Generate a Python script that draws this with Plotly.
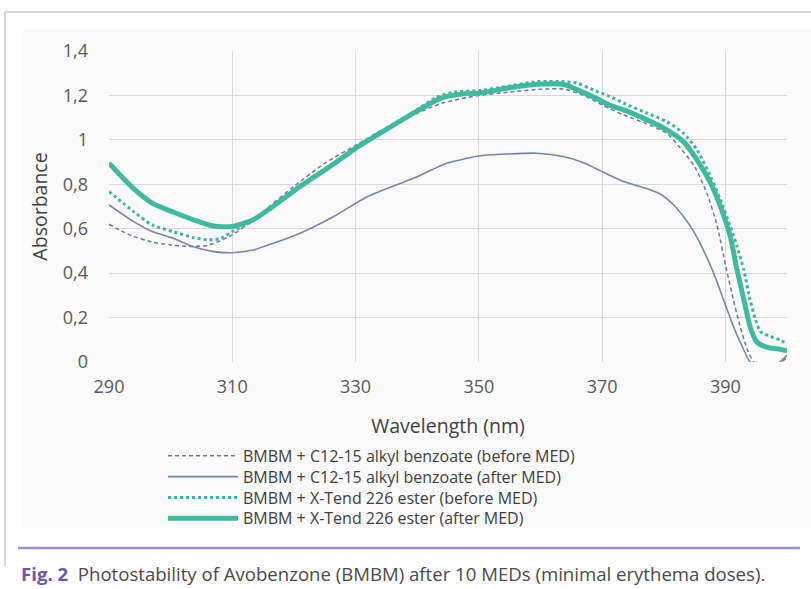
import plotly.graph_objects as go

# ---- data ----
wl_c12_before = [290, 292, 294, 297, 300, 303, 306, 308, 310, 312, 316, 320, 325, 330, 334, 340, 344, 348, 350, 355, 360, 364, 367, 370, 373.5, 377, 380.5, 382.5, 385, 387, 388.6, 390.2, 391.3, 392.4, 393.5, 394.6, 396, 398, 400]
ab_c12_before = [0.62, 0.59, 0.565, 0.54, 0.527, 0.52, 0.525, 0.545, 0.572, 0.61, 0.70, 0.79, 0.895, 0.975, 1.04, 1.12, 1.165, 1.19, 1.20, 1.215, 1.228, 1.228, 1.20, 1.157, 1.112, 1.075, 1.03, 0.97, 0.88, 0.76, 0.62, 0.414, 0.28, 0.16, 0.06, 0.0, -0.03, -0.02, 0.02]

wl_c12_after = [290, 294, 297, 300.4, 303.7, 307, 310, 313.4, 316.6, 321, 326.4, 331.9, 339.4, 344.8, 350, 354.5, 359.4, 363.7, 367, 370, 373.5, 377.3, 379.5, 381.5, 383.2, 384.8, 386.5, 388.1, 389.7, 391.3, 393, 394, 396, 398, 400]
ab_c12_after = [0.707, 0.632, 0.587, 0.557, 0.519, 0.497, 0.492, 0.504, 0.534, 0.58, 0.654, 0.744, 0.827, 0.895, 0.927, 0.936, 0.94, 0.925, 0.897, 0.857, 0.812, 0.78, 0.755, 0.71, 0.655, 0.59, 0.50, 0.40, 0.28, 0.16, 0.054, 0.0, -0.04, -0.02, 0.03]

wl_xt_before = [290, 294, 297, 300.4, 303.7, 306, 308, 310, 313, 316.6, 321, 326.4, 330, 334, 339.4, 343, 346, 350, 354.5, 359.4, 363.7, 366, 369, 371.3, 373.5, 377.3, 380.5, 383.2, 385.4, 387.6, 389.2, 390.8, 391.9, 393, 394, 394.9, 395.7, 397.4, 398.9, 400]
ab_xt_before = [0.767, 0.677, 0.617, 0.587, 0.56, 0.55, 0.555, 0.587, 0.63, 0.70, 0.79, 0.895, 0.965, 1.035, 1.125, 1.19, 1.215, 1.222, 1.24, 1.262, 1.262, 1.255, 1.22, 1.195, 1.165, 1.12, 1.082, 1.03, 0.955, 0.835, 0.73, 0.61, 0.52, 0.414, 0.28, 0.19, 0.136, 0.114, 0.099, 0.081]

wl_xt_after = [290, 294, 297, 300.4, 303.7, 307, 310, 313.4, 316.6, 321, 326.4, 330, 334, 339.4, 343.8, 347.5, 350, 354.5, 359.4, 363.7, 366, 369.2, 371.3, 373.5, 377.3, 380.5, 383.2, 385.4, 387.6, 389.2, 390.8, 391.9, 393, 394, 395.1, 396.8, 398.9, 400]
ab_xt_after = [0.895, 0.78, 0.715, 0.675, 0.64, 0.612, 0.61, 0.64, 0.70, 0.79, 0.89, 0.962, 1.03, 1.12, 1.187, 1.207, 1.21, 1.232, 1.25, 1.25, 1.225, 1.185, 1.155, 1.135, 1.09, 1.045, 0.992, 0.91, 0.805, 0.70, 0.564, 0.414, 0.28, 0.16, 0.09, 0.066, 0.057, 0.05]

names = [
    "BMBM + C12-15 alkyl benzoate (before MED)",
    "BMBM + C12-15 alkyl benzoate (after MED)",
    "BMBM + X-Tend 226 ester (before MED)",
    "BMBM + X-Tend 226 ester (after MED)",
]
x_ticks = [290, 310, 330, 350, 370, 390]
y_ticks = [0, 0.2, 0.4, 0.6, 0.8, 1.0, 1.2, 1.4]

FONT = "Open Sans"
TXT = "#595959"

styles = [
    dict(color="#6b789a", width=1.5, dash="4px,3px"),
    dict(color="#7985a4", width=1.6, dash="solid"),
    dict(color="#3db59e", width=3, dash="dot"),
    dict(color="#3fba9c", width=5, dash="solid"),
]
series = [(wl_c12_before, ab_c12_before), (wl_c12_after, ab_c12_after),
          (wl_xt_before, ab_xt_before), (wl_xt_after, ab_xt_after)]

fig = go.Figure()
for (xs, ys), nm, st in zip(series, names, styles):
    fig.add_trace(go.Scatter(x=xs, y=ys, name=nm, mode="lines", showlegend=False,
                             line=dict(color=st["color"], width=st["width"], dash=st["dash"],
                                       shape="spline", smoothing=0.6)))

W, H = 811, 589
L, R, T, B = 109, 787, 51, 362
def px(x):
    return (x - L) / (R - L)
def py(y):
    return (B - y) / (B - T)

shapes = [
    dict(type="rect", xref="paper", yref="paper", x0=px(22), x1=px(811), y0=py(528), y1=py(29),
         fillcolor="#fafafa", line=dict(width=0), layer="below"),
    dict(type="line", xref="paper", yref="paper", x0=px(5), x1=px(811), y0=py(12), y1=py(12),
         line=dict(color="#d6d6d6", width=2)),
    dict(type="line", xref="paper", yref="paper", x0=px(5), x1=px(5), y0=py(12), y1=py(566),
         line=dict(color="#d6d6d6", width=2)),
    dict(type="line", xref="paper", yref="paper", x0=px(18), x1=px(800), y0=py(548), y1=py(548),
         line=dict(color="#9c90cc", width=2.5)),
]

annotations = [
    dict(xref="paper", yref="paper", x=px(19), y=py(573), xanchor="left", yanchor="middle",
         showarrow=False,
         text="<span style='color:#6f55ad'><b>Fig. 2</b></span>&nbsp;&nbsp;Photostability of Avobenzone (BMBM) after 10 MEDs (minimal erythema doses).",
         font=dict(family=FONT, size=18.6, color="#4a4a4a")),
]

# legend: keys + one multi-line text block, laid out like the reference
LEG_FS = 16
leg_center = 487
step = LEG_FS * 1.3
leg_y = [leg_center + (i - 1.5) * step for i in range(4)]
for st, yy in zip(styles, leg_y):
    shapes.append(dict(type="line", xref="paper", yref="paper", x0=px(168), x1=px(238),
                       y0=py(yy), y1=py(yy),
                       line=dict(color=st["color"], width=st["width"], dash=st["dash"])))
annotations.append(dict(xref="paper", yref="paper", x=px(241), y=py(leg_center), xanchor="left",
                        yanchor="middle", align="left", showarrow=False, text="<br>".join(names),
                        font=dict(family=FONT, size=LEG_FS, color="#404040")))

fig.update_layout(
    width=W, height=H,
    margin=dict(l=L, r=W - R, t=T, b=H - B, pad=0),
    paper_bgcolor="white",
    plot_bgcolor="rgba(0,0,0,0)",
    separators=", ",
    font=dict(family=FONT, size=16, color=TXT),
    shapes=shapes,
    annotations=annotations,
    showlegend=False,
)
fig.update_xaxes(range=[290, 400], tickvals=x_ticks, showgrid=True, gridcolor="#d9d9d9", gridwidth=1,
                 zeroline=False, showline=False, ticks="", ticklabelstandoff=12,
                 tickfont=dict(family=FONT, size=18, color=TXT),
                 title=dict(text="Wavelength (nm)", standoff=22, font=dict(family=FONT, size=19.5, color="#404040")))
fig.update_yaxes(range=[0, 1.4], tickvals=y_ticks, showgrid=True, gridcolor="#d9d9d9", gridwidth=1,
                 zeroline=False, showline=False, ticks="", ticklabelstandoff=20,
                 tickfont=dict(family=FONT, size=18, color=TXT),
                 title=dict(text="Absorbance", standoff=9, font=dict(family=FONT, size=19.5, color="#404040")))

fig.write_html("out.html")
